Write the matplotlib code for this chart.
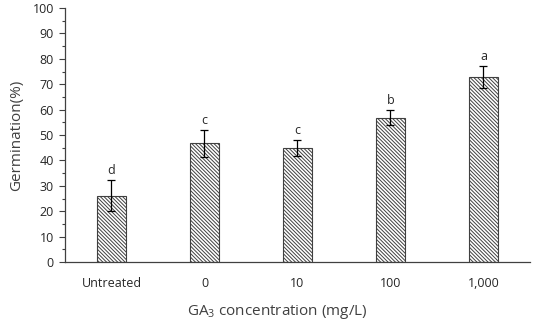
import numpy as np
import matplotlib.pyplot as plt
from matplotlib.ticker import MultipleLocator

categories = ["Untreated", "0", "10", "100", "1,000"]
germination = [26.1, 46.7, 44.8, 56.8, 72.8]
errors = [6.0, 5.2, 3.2, 3.0, 4.4]
letters = ["d", "c", "c", "b", "a"]

plt.rcParams['font.family'] = ['Open Sans', 'DejaVu Sans']
plt.rcParams['mathtext.fontset'] = 'custom'
plt.rcParams['mathtext.rm'] = 'Open Sans'
plt.rcParams['mathtext.it'] = 'Open Sans'
plt.rcParams['hatch.color'] = '#606060'
plt.rcParams['hatch.linewidth'] = 0.7

fig = plt.figure(figsize=(5.34, 3.22), dpi=100)
ax = fig.add_axes([0.1217, 0.1863, 0.8708, 0.7887])

x = np.arange(len(categories))
ax.bar(x, germination, width=0.31, color='white', edgecolor='#404040',
       linewidth=0.8, hatch='\\\\\\\\\\\\\\\\\\')
ax.errorbar(x, germination, yerr=errors, fmt='none', ecolor='black',
            elinewidth=0.9, capsize=3, capthick=0.9)
for xi, g, e, l in zip(x, germination, errors, letters):
    ax.text(xi, g + e + 1.2, l, ha='center', va='bottom', fontsize=9, color='#262626')

ax.set_xlim(-0.5, 4.5)
ax.set_ylim(0, 100)
ax.yaxis.set_major_locator(MultipleLocator(10))
ax.yaxis.set_minor_locator(MultipleLocator(5))
ax.set_xticks(x)
ax.set_xticklabels(categories)
ax.tick_params(axis='x', length=0, pad=11, labelsize=9, colors='#262626')
ax.tick_params(axis='y', which='major', length=4, width=0.8, color='#404040',
               labelsize=9, labelcolor='#262626', pad=4)
ax.tick_params(axis='y', which='minor', length=2.5, width=0.8, color='#404040')
for s in ['top', 'right']:
    ax.spines[s].set_visible(False)
for s in ['left', 'bottom']:
    ax.spines[s].set_color('#404040')
    ax.spines[s].set_linewidth(0.9)

ax.set_ylabel("Germination(%)", fontsize=11, color='#404040', labelpad=6)
ax.set_xlabel("GA$\\mathregular{_3}$ concentration (mg/L)", fontsize=11,
              color='#404040')
ax.xaxis.set_label_coords(0.456, -0.16)

fig.savefig("out.png", dpi=100)
